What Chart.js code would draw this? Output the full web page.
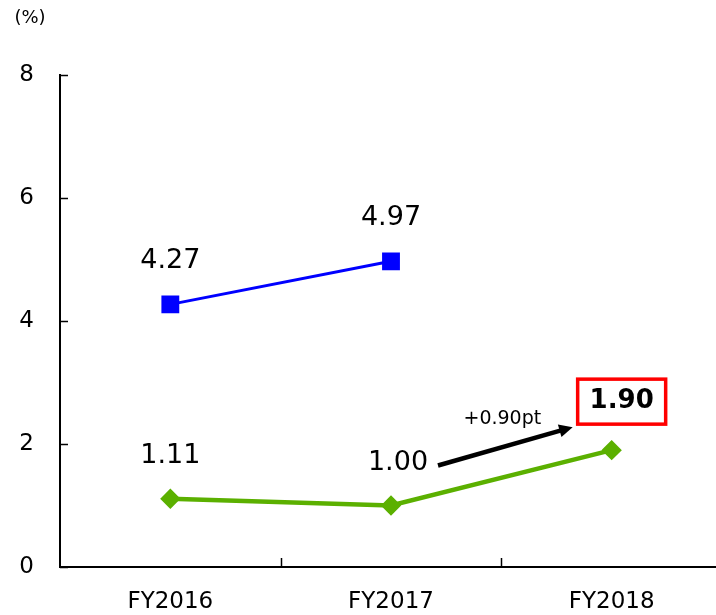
<!DOCTYPE html>
<html>
<head>
<meta charset="utf-8">
<script src="https://cdn.jsdelivr.net/npm/chart.js@4.4.1/dist/chart.umd.min.js"></script>
<style>
  html, body { margin: 0; padding: 0; background: #fff; overflow: hidden; }
  #wrap { width: 716px; height: 615px; overflow: hidden; }
</style>
</head>
<body>
<div id="wrap"><canvas id="chart" width="722" height="615"></canvas></div>
<script>
// Chart values
const categories = ['FY2016', 'FY2017', 'FY2018'];
const blueValues = [4.27, 4.97, null];
const greenValues = [1.11, 1.00, 1.90];
const yTicks = [0, 2, 4, 6, 8];
const changeLabel = '+0.90pt';
const unitLabel = '(%)';

const FONT = '"DejaVu Sans", Verdana, sans-serif';
const BLUE = '#0000ff';
const GREEN = '#5bb000';

// Inward tick marks, value labels and the arrow annotation
const decorations = {
  id: 'decorations',
  afterDraw(chart) {
    const ctx = chart.ctx;
    const x = chart.scales.x;
    const y = chart.scales.y;
    const area = chart.chartArea;

    ctx.save();
    ctx.strokeStyle = '#000';
    ctx.lineWidth = 1.5;

    // y ticks pointing into the plot
    yTicks.forEach(v => {
      const py = Math.round(y.getPixelForValue(v)) + 0.5;
      ctx.beginPath();
      ctx.moveTo(area.left, py);
      ctx.lineTo(area.left + 8, py);
      ctx.stroke();
    });

    // x ticks between categories
    for (let i = 0; i < categories.length - 1; i++) {
      const px = Math.round((x.getPixelForValue(i) + x.getPixelForValue(i + 1)) / 2) + 0.5;
      ctx.beginPath();
      ctx.moveTo(px, area.bottom);
      ctx.lineTo(px, area.bottom - 9);
      ctx.stroke();
    }

    // unit label
    ctx.fillStyle = '#000';
    ctx.font = '18px ' + FONT;
    ctx.textAlign = 'center';
    ctx.textBaseline = 'middle';
    ctx.fillText(unitLabel, 30, 18);

    // value labels above points
    ctx.font = '27px ' + FONT;
    const drawLabels = (values, skipLast) => {
      values.forEach((v, i) => {
        if (v === null || (skipLast && i === values.length - 1)) return;
        const px = x.getPixelForValue(i);
        const py = y.getPixelForValue(v);
        ctx.fillText(v.toFixed(2), px + (i === 1 && values === greenValues ? 7 : 0), py - 43);
      });
    };
    drawLabels(blueValues, false);
    drawLabels(greenValues, true);

    // highlighted last value in a red box
    const last = greenValues.length - 1;
    const lx = x.getPixelForValue(last) + 10;
    const ly = y.getPixelForValue(greenValues[last]) - 49;
    ctx.font = 'bold 26px ' + FONT;
    ctx.fillText(greenValues[last].toFixed(2), lx, ly);
    ctx.strokeStyle = '#ff0000';
    ctx.lineWidth = 3.5;
    ctx.strokeRect(lx - 44, ly - 22, 88, 45);

    // arrow from previous value to the highlighted one
    const sx = x.getPixelForValue(1) + 47;
    const sy = y.getPixelForValue(greenValues[1]) - 40;
    const ex = x.getPixelForValue(last) - 39;
    const ey = y.getPixelForValue(greenValues[last]) - 23;
    const ang = Math.atan2(ey - sy, ex - sx);
    const headLen = 15;
    ctx.strokeStyle = '#000';
    ctx.fillStyle = '#000';
    ctx.lineWidth = 4.5;
    ctx.beginPath();
    ctx.moveTo(sx, sy);
    ctx.lineTo(ex - headLen * Math.cos(ang) * 0.8, ey - headLen * Math.sin(ang) * 0.8);
    ctx.stroke();
    ctx.beginPath();
    ctx.moveTo(ex, ey);
    ctx.lineTo(ex - headLen * Math.cos(ang - 0.45), ey - headLen * Math.sin(ang - 0.45));
    ctx.lineTo(ex - headLen * Math.cos(ang + 0.45), ey - headLen * Math.sin(ang + 0.45));
    ctx.closePath();
    ctx.fill();

    ctx.font = '19px ' + FONT;
    ctx.fillText(changeLabel, (sx + ex) / 2 - 3, ey - 8);

    ctx.restore();
  }
};

new Chart(document.getElementById('chart'), {
  type: 'line',
  data: {
    labels: categories,
    datasets: [
      {
        data: blueValues,
        borderColor: BLUE,
        backgroundColor: BLUE,
        borderWidth: 3,
        pointStyle: 'rect',
        pointRadius: 10.5,
        pointHoverRadius: 10.5,
        spanGaps: false
      },
      {
        data: greenValues,
        borderColor: GREEN,
        backgroundColor: GREEN,
        borderWidth: 4.5,
        pointStyle: 'rectRot',
        pointRadius: 7,
        pointHoverRadius: 7
      }
    ]
  },
  options: {
    responsive: false,
    animation: false,
    devicePixelRatio: 1,
    layout: { autoPadding: false, padding: { top: 75, right: 0, left: 0, bottom: 0 } },
    plugins: { legend: { display: false }, tooltip: { enabled: false } },
    scales: {
      x: {
        offset: true,
        grid: { display: false, drawTicks: false },
        border: { display: true, color: '#000', width: 2 },
        ticks: { color: '#000', font: { family: FONT, size: 23 }, padding: 21, maxRotation: 0 },
        afterFit(scale) { scale.height = 48; }
      },
      y: {
        min: 0,
        max: 8,
        grid: { display: false, drawTicks: false },
        border: { display: true, color: '#000', width: 2 },
        ticks: { stepSize: 2, color: '#000', font: { family: FONT, size: 23 }, padding: 26 },
        afterFit(scale) { scale.width = 60; }
      }
    }
  },
  plugins: [decorations]
});
</script>
</body>
</html>
